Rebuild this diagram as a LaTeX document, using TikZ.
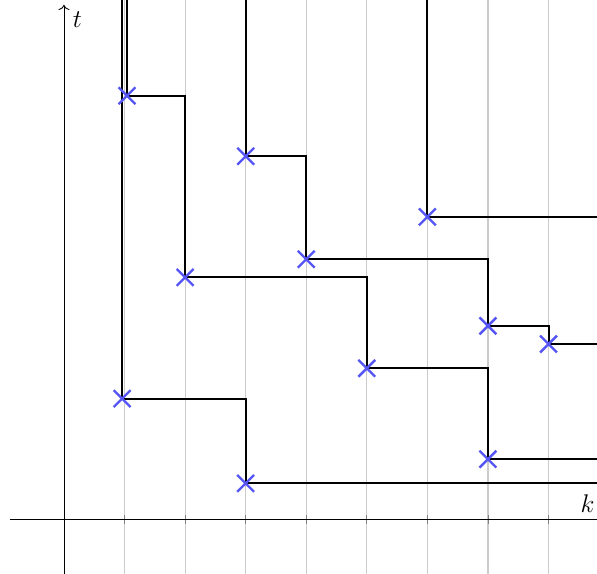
\documentclass[tikz,border=0pt]{standalone}
\usepackage{amsmath,amssymb}
\usepackage{xcolor}
\usetikzlibrary{arrows.meta,shapes.misc}
\definecolor{hit}{HTML}{5555F5}

\begin{document}
\begin{tikzpicture}[
  walk/.style={line width=0.9pt, black},
  gridline/.style={gray!40, line width=0.5pt},
  axlabel/.style={font=\large, inner sep=3pt},
  hitmark/.style={cross out, draw=hit, line width=1.1pt, minimum size=0.24cm, inner sep=0pt}]
\useasboundingbox (-1.056,-0.89) rectangle (8.8,8.58);
\clip (-1.056,-0.89) rectangle (8.8,8.58);
\coordinate (top) at (0,9);
\coordinate (right) at (9,0);
% grid and axes
\foreach \i in {1,...,8} {
  \draw[gridline] (\i,-1) -- (\i,9);
  \draw[gray] (\i,-0.07) -- (\i,0.07);
}
\draw[->] (-0.89,0) -- (9,0);
\draw[->] (0,-1) -- (0,8.5) node[axlabel, below right, xshift=1pt] (tl) {$t$};
\node[axlabel, above left, xshift=2pt] (kl) at (8.8,0) {$k$};
% jump points
\foreach \n/\x/\y in {1/1.04/7.0, 2/3/6.0, 3/6/5.0, 4/4/4.3, 5/2/4.0, 6/7/3.2,
                      7/8/2.9, 8/5/2.5, 9/0.96/2.0, 10/7/1.0, 11/3/0.6}
  \coordinate (c\n) at (\x,\y);
% paths
\draw[walk] (c9 |- top) -- (c9) -| (c11) -- (c11 -| right);
\draw[walk] (c1 |- top) -- (c1) -| (c5) -| (c8) -| (c10) -- (c10 -| right);
\draw[walk] (c2 |- top) -- (c2) -| (c4) -| (c6) -| (c7) -- (c7 -| right);
\draw[walk] (c3 |- top) -- (c3) -- (c3 -| right);
\foreach \n in {1,...,11}
  \node[hitmark] (x\n) at (c\n) {};
\end{tikzpicture}
\end{document}
